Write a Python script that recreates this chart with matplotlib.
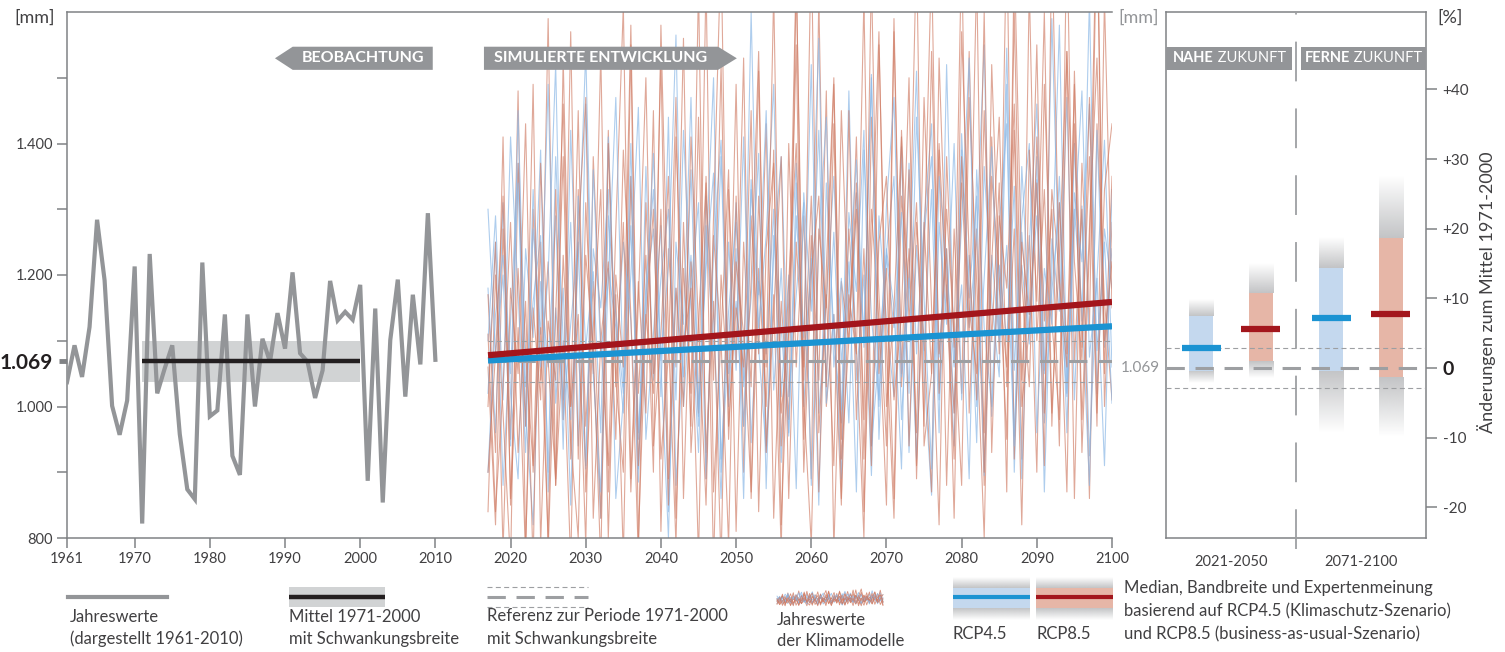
import numpy as np
import matplotlib.pyplot as plt
import matplotlib.colors as mcolors
from matplotlib.patches import Polygon, Rectangle
from matplotlib.transforms import blended_transform_factory

plt.rcParams['font.family'] = ['Lato', 'DejaVu Sans']

# --- beobachtung (jahressumme niederschlag, mm) ---
obs_years = np.arange(1961, 2011)
obs_mm = [1037, 1093, 1045, 1121, 1284, 1192, 1001, 957, 1009, 1213,
          822, 1232, 1020, 1058, 1093, 958, 874, 859, 1219, 985,
          994, 1140, 925, 896, 1140, 1000, 1103, 1068, 1142, 1088,
          1204, 1081, 1068, 1013, 1055, 1191, 1131, 1144, 1132, 1185,
          887, 1149, 854, 1101, 1193, 1015, 1170, 1064, 1294, 1071]

ref_mean = 1069
ref_spread = 31
ref_period = [1971, 2000]

# --- simulation ---
sim_start = 2017
sim_end = 2100
trend_years = [2017, 2100]
trend_rcp45 = [1070, 1122]
trend_rcp85 = [1078, 1159]

rcp45_run1 = [1180, 960, 1310, 1020, 890, 1240, 1105, 1390, 870, 1150, 1010, 1280,
              940, 1460, 1060, 830, 1210, 1120, 990, 1350, 905, 1170, 1270, 1015,
              1440, 880, 1090, 1230, 970, 1320, 1135, 860, 1250, 1055, 1410, 945,
              1190, 1080, 1300, 915, 1160, 1370, 1000, 1225, 850, 1340, 1110, 975,
              1480, 1040, 1200, 895, 1290, 1130, 1015, 1395, 930, 1245, 1085, 1330,
              960, 1520, 1070, 1185, 890, 1360, 1120, 1000, 1275, 1430, 955, 1215,
              1095, 1380, 870, 1255, 1145, 1470, 1010, 1305, 925, 1195, 1405, 1060]
rcp45_run2 = [1020, 1250, 880, 1130, 1370, 990, 820, 1190, 1060, 1290, 935, 1420,
              1080, 910, 1240, 1150, 1330, 860, 1010, 1200, 1455, 950, 1110, 1275,
              840, 1180, 1045, 1360, 985, 1225, 1500, 900, 1095, 1310, 1030, 1165,
              1385, 875, 1260, 1120, 960, 1340, 1070, 1215, 1560, 1005, 1140, 890,
              1295, 1175, 1420, 940, 1080, 1235, 1350, 980, 1190, 1510, 1050, 865,
              1280, 1125, 1400, 1010, 1230, 945, 1365, 1160, 1045, 1490, 900, 1265,
              1110, 1345, 975, 1205, 1580, 1035, 1300, 1150, 880, 1420, 1090, 1240]
rcp45_run3 = [1300, 1080, 1200, 940, 1450, 1030, 1160, 1260, 900, 1380, 1100, 980,
              1220, 1540, 1050, 870, 1290, 1140, 1020, 1400, 960, 1185, 1330, 1065,
              800, 1250, 1125, 1470, 995, 1210, 1355, 920, 1145, 1280, 1040, 1600,
              1090, 930, 1235, 1380, 1015, 1170, 1310, 880, 1255, 1440, 1060, 1195,
              975, 1325, 1105, 1500, 1000, 1240, 1150, 905, 1370, 1080, 1280, 1430,
              1010, 1185, 940, 1390, 1120, 1260, 1550, 985, 1215, 1100, 1335, 890,
              1245, 1460, 1055, 1175, 1310, 960, 1400, 1130, 1620, 1020, 1270, 1180]
rcp45_run4 = [900, 1140, 1230, 1050, 1340, 970, 1270, 1110, 1490, 1005, 1180, 850,
              1320, 1090, 1205, 960, 1410, 1070, 1250, 1130, 885, 1365, 1040, 1195,
              1300, 1010, 1420, 1155, 930, 1275, 1085, 1380, 1000, 1240, 860, 1330,
              1170, 1450, 1025, 1210, 955, 1290, 1105, 1520, 990, 1160, 1350, 1065,
              1220, 870, 1390, 1135, 1010, 1305, 1470, 1045, 1195, 920, 1260, 1380,
              1075, 1240, 990, 1415, 1165, 1320, 895, 1230, 1100, 1545, 1055, 1285,
              1400, 960, 1210, 1125, 1350, 1020, 1270, 1480, 1075, 1195, 910, 1330]
rcp45_run5 = [1100, 1290, 1010, 1410, 1170, 930, 1330, 1060, 1200, 1520, 980, 1125,
              1250, 905, 1360, 1080, 1190, 1470, 1030, 1275, 950, 1145, 1385, 1070,
              1215, 1565, 1000, 1180, 1310, 890, 1240, 1405, 1050, 1160, 970, 1345,
              1120, 1260, 1490, 1015, 1200, 875, 1325, 1145, 1420, 1040, 1265, 995,
              1185, 1375, 1090, 1505, 950, 1230, 1120, 1295, 1020, 1440, 1165, 905,
              1350, 1210, 1060, 1280, 1530, 1000, 1195, 1395, 1105, 1245, 940, 1365,
              1140, 1290, 1050, 1590, 1180, 1015, 1325, 1220, 1460, 1085, 1250, 1005]

rcp85_run1 = [1060, 820, 1270, 950, 1480, 790, 1150, 1010, 1590, 880, 1100, 760,
              1330, 970, 1190, 830, 1420, 1040, 900, 1550, 800, 1130, 1300, 920,
              1080, 1470, 860, 1220, 990, 1650, 870, 1110, 1360, 810, 1250, 1030,
              1510, 940, 1170, 780, 1400, 1060, 1290, 890, 1620, 1000, 1140, 850,
              1450, 980, 1240, 910, 1550, 1090, 830, 1320, 1180, 1700, 940, 1050,
              1390, 880, 1270, 1020, 1540, 1110, 800, 1350, 1200, 950, 1600, 1040,
              1260, 900, 1490, 1130, 980, 1730, 1070, 1300, 860, 1430, 1160, 1010]
rcp85_run2 = [840, 1200, 990, 760, 1370, 1080, 910, 1250, 780, 1140, 1460, 950,
              800, 1310, 1050, 1540, 870, 1170, 770, 1350, 1020, 1230, 900, 1580,
              1110, 790, 1280, 970, 1440, 930, 1160, 760, 1330, 1070, 1530, 860,
              1210, 1000, 1390, 820, 1120, 1670, 950, 1260, 1040, 1480, 780, 1190,
              1100, 1410, 920, 1300, 1130, 850, 1570, 1030, 1240, 960, 1470, 1150,
              820, 1380, 1090, 1700, 990, 1270, 880, 1520, 1180, 1060, 1420, 920,
              1640, 1100, 1330, 990, 1230, 1540, 860, 1370, 1120, 1750, 1000, 1280]
rcp85_run3 = [1170, 930, 1410, 850, 1120, 770, 1300, 1040, 1220, 880, 1530, 1000,
              1140, 790, 1380, 1100, 910, 1270, 1610, 890, 1190, 990, 1450, 810,
              1240, 1060, 1560, 930, 1130, 1340, 760, 1200, 1010, 1490, 900, 1290,
              1080, 1430, 830, 1160, 980, 1650, 1040, 1320, 870, 1210, 1500, 950,
              1270, 1090, 800, 1440, 1170, 940, 1590, 1050, 1360, 910, 1230, 1680,
              1020, 1300, 1110, 880, 1470, 1190, 960, 1410, 1080, 1730, 920, 1250,
              1140, 1550, 990, 1330, 1200, 870, 1510, 1090, 1380, 970, 1620, 1150]
rcp85_run4 = [1000, 1250, 780, 1180, 1050, 1430, 900, 1120, 800, 1330, 980, 1570,
              920, 1230, 1090, 760, 1400, 1030, 1280, 870, 1160, 1500, 940, 1110,
              1350, 830, 1210, 1020, 1640, 890, 1260, 1100, 790, 1320, 970, 1190,
              1540, 930, 1140, 1380, 860, 1250, 1060, 1710, 960, 1170, 910, 1450,
              1120, 1300, 840, 1230, 1570, 1000, 1150, 1410, 940, 1280, 1100, 870,
              1530, 1180, 990, 1340, 1110, 1660, 900, 1220, 1440, 1030, 1270, 820,
              1390, 1160, 1600, 970, 1310, 1080, 1490, 930, 1240, 1770, 1050, 1350]
rcp85_run5 = [900, 1080, 1320, 860, 1210, 970, 1490, 790, 1130, 1040, 1380, 920,
              1260, 1470, 830, 1100, 1220, 950, 1390, 1140, 770, 1310, 1050, 1530,
              890, 1180, 1000, 1410, 1120, 850, 1290, 1700, 970, 1150, 1060, 1450,
              840, 1240, 1370, 990, 1110, 1550, 900, 1200, 1320, 1030, 1430, 860,
              1170, 1080, 1620, 940, 1250, 1350, 1010, 1140, 1500, 890, 1280, 1050,
              1400, 1160, 920, 1570, 1230, 1010, 1450, 1100, 1340, 870, 1690, 1190,
              1030, 1410, 1130, 1300, 940, 1540, 1220, 1070, 1470, 990, 1330, 1430]
rcp85_run6 = [1110, 840, 1030, 1280, 930, 1160, 760, 1370, 1070, 890, 1230, 1000,
              1450, 870, 1120, 1330, 800, 1200, 1060, 1580, 910, 1140, 1020, 1300,
              850, 1410, 1090, 1180, 770, 1350, 1040, 1520, 950, 1220, 1110, 870,
              1320, 1060, 1630, 940, 1190, 1400, 1010, 790, 1270, 1150, 1490, 920,
              1100, 1340, 980, 1660, 1050, 1210, 860, 1420, 1130, 1310, 970, 1540,
              1080, 1240, 830, 1380, 1150, 1050, 1600, 930, 1290, 1180, 1460, 1000,
              1120, 1340, 910, 1710, 1190, 1060, 1430, 980, 1270, 1530, 1100, 1220]

rcp45_runs = [rcp45_run1, rcp45_run2, rcp45_run3, rcp45_run4, rcp45_run5]
rcp85_runs = [rcp85_run1, rcp85_run2, rcp85_run3, rcp85_run4, rcp85_run5, rcp85_run6]

# --- zukunft: aenderung in % gegen 1971-2000 ---
periods = ['2021-2050', '2071-2100']
rcp45_median = [2.9, 7.2]
rcp45_band_lo = [-0.4, -0.4]
rcp45_band_hi = [7.5, 14.4]
rcp45_expert_lo = [-2.2, -9.3]
rcp45_expert_hi = [9.9, 18.8]
rcp85_median = [5.6, 7.8]
rcp85_band_lo = [1.0, -1.3]
rcp85_band_hi = [10.8, 18.7]
rcp85_expert_lo = [-1.4, -9.9]
rcp85_expert_hi = [15.1, 27.6]
pct_ticks = [-20, -10, 0, 10, 20, 30, 40]

# colours
c_spine = '#808285'
c_text = '#414042'
c_obs = '#939598'
c_band = '#d1d3d4'
c_mean = '#231f20'
c_blue = '#1b93d2'
c_red = '#a3161c'
c_blue_thin = '#8cb8e6'
c_red_thin = '#cf7a62'
c_blue_band = '#c4d8ee'
c_red_band = '#e6b6a7'
c_fade = '#c3c4c6'
c_ref = '#9d9fa2'
c_banner = '#939598'


def fade(axis, x0, x1, y_from, y_to, color, zorder=2):
    rgba = np.zeros((64, 1, 4))
    rgba[..., :3] = mcolors.to_rgb(color)
    rgba[:, 0, 3] = np.linspace(1, 0, 64)
    axis.imshow(rgba, extent=[x0, x1, y_from, y_to], origin='lower',
                aspect='auto', zorder=zorder, interpolation='bilinear')


def mm_label(v):
    return '{:,}'.format(v).replace(',', '.')


fig = plt.figure(figsize=(15.05, 6.52), dpi=100)
ax = fig.add_axes([67 / 1505, 114 / 652, 1045 / 1505, 526 / 652])
axr = fig.add_axes([1166 / 1505, 114 / 652, 260 / 1505, 526 / 652])
lg = fig.add_axes([0, 0, 1, 1])

# ---------------- main panel ----------------
n = max(len(rcp45_runs), len(rcp85_runs))
for i in range(n):
    if i < len(rcp45_runs):
        run = rcp45_runs[i]
        ax.plot(sim_start + np.arange(len(run)), run, color=c_blue_thin, lw=0.8, alpha=0.7, zorder=2)
    if i < len(rcp85_runs):
        run = rcp85_runs[i]
        ax.plot(sim_start + np.arange(len(run)), run, color=c_red_thin, lw=0.8, alpha=0.65, zorder=2)

ax.plot([sim_start, sim_end], [ref_mean, ref_mean], color=c_ref, lw=2.2, dashes=(6, 3.5), zorder=3)
for s in (-1, 1):
    ax.plot([sim_start, sim_end], [ref_mean + s * ref_spread] * 2, color=c_ref, lw=0.8,
            dashes=(4.5, 3), zorder=3)

ax.fill_between(ref_period, ref_mean - ref_spread, ref_mean + ref_spread, color=c_band, lw=0, zorder=1)
ax.plot(obs_years, obs_mm, color=c_obs, lw=3, zorder=3, solid_joinstyle='miter')
ax.plot(ref_period, [ref_mean, ref_mean], color=c_mean, lw=3.2, zorder=4, solid_capstyle='butt')

ax.plot(trend_years, trend_rcp45, color=c_blue, lw=4.5, zorder=5, solid_capstyle='butt')
ax.plot(trend_years, trend_rcp85, color=c_red, lw=4.5, zorder=5, solid_capstyle='butt')

ax.set_xlim(1961, 2100)
ax.set_ylim(800, 1600)
for side in ('top', 'left', 'bottom'):
    ax.spines[side].set_color(c_spine)
    ax.spines[side].set_linewidth(1.1)
ax.spines['right'].set_visible(False)

xt = [1961, 1970, 1980, 1990, 2000, 2010, 2020, 2030, 2040, 2050, 2060, 2070, 2080, 2090, 2100]
ax.set_xticks(xt)
ax.set_xticklabels([str(v) for v in xt])
yt = [800, 1000, ref_mean, 1200, 1400]
ax.set_yticks(yt)
ylabels = ax.set_yticklabels([mm_label(v) for v in yt])
ax.set_yticks([900, 1100, 1300, 1500], minor=True)
ax.tick_params(axis='both', which='both', direction='out', length=7, width=1.1,
               color=c_spine, labelcolor=c_text, labelsize=10.5, pad=3)
ylabels[2].set_fontweight('bold')
ylabels[2].set_fontsize(15)
ylabels[2].set_color(c_mean)
tk = ax.yaxis.get_major_ticks()[2]
tk.tick1line.set_markeredgewidth(3.5)
tk.tick1line.set_color(c_mean)
tk.tick1line.set_markersize(6)


def banner(axis, x0, x1, y0, y1, tip, text, pointing):
    ym = (y0 + y1) / 2
    if pointing == 'left':
        pts = [(tip, ym), (x0, y1), (x1, y1), (x1, y0), (x0, y0)]
    else:
        pts = [(x0, y0), (x0, y1), (x1, y1), (tip, ym), (x1, y0)]
    axis.add_patch(Polygon(pts, closed=True, facecolor=c_banner, edgecolor='none',
                           transform=axis.transAxes, clip_on=False, zorder=6))
    axis.text((x0 + x1) / 2, ym, text, transform=axis.transAxes, ha='center', va='center',
              color='white', fontsize=11.5, fontweight='bold', zorder=7)


banner(ax, 0.216, 0.350, 0.890, 0.934, 0.199, 'BEOBACHTUNG', 'left')
banner(ax, 0.399, 0.623, 0.890, 0.934, 0.641, 'SIMULIERTE ENTWICKLUNG', 'right')

# ---------------- right panel ----------------
ylo, yhi = -24.4, 51.1
spread_pct = ref_spread / ref_mean * 100
pos = [1, 3]
off = 0.46
bw = 0.37
mw = 0.6
for k in range(len(periods)):
    for sign, med, blo, bhi, elo, ehi, cb, cm in (
            (-1, rcp45_median, rcp45_band_lo, rcp45_band_hi, rcp45_expert_lo, rcp45_expert_hi, c_blue_band, c_blue),
            (1, rcp85_median, rcp85_band_lo, rcp85_band_hi, rcp85_expert_lo, rcp85_expert_hi, c_red_band, c_red)):
        x = pos[k] + sign * off
        fade(axr, x - bw / 2, x + bw / 2, bhi[k], ehi[k], c_fade)
        fade(axr, x - bw / 2, x + bw / 2, blo[k], elo[k], c_fade)
        axr.bar(x, bhi[k] - blo[k], bottom=blo[k], width=bw, color=cb, lw=0, zorder=2)
        axr.plot([x - mw / 2, x + mw / 2], [med[k], med[k]], color=cm, lw=4.5,
                 solid_capstyle='butt', zorder=5)

axr.plot([0, 4], [0, 0], color=c_ref, lw=2.2, dashes=(6, 3.5), zorder=3)
for s in (-1, 1):
    axr.plot([0, 4], [s * spread_pct] * 2, color=c_ref, lw=0.8, dashes=(4.5, 3), zorder=3)
axr.plot([2, 2], [ylo - 1.6, yhi], color=c_ref, lw=1.3, dashes=(22, 15), zorder=3, clip_on=False)

axr.set_xlim(0, 4)
axr.set_ylim(ylo, yhi)
for side in axr.spines:
    axr.spines[side].set_color(c_spine)
    axr.spines[side].set_linewidth(1.1)
axr.set_xticks(pos)
axr.set_xticklabels(periods)
axr.tick_params(axis='x', length=0, pad=12, labelsize=10.5, labelcolor=c_text)
axr.yaxis.tick_right()
axr.set_yticks(pct_ticks)
plabels = axr.set_yticklabels(['+{}'.format(v) if v > 0 else str(v) for v in pct_ticks])
axr.tick_params(axis='y', direction='out', length=8, width=1.1, color=c_spine,
                labelcolor=c_text, labelsize=11, pad=4)
for t, v in zip(plabels, pct_ticks):
    if v == 0:
        t.set_fontweight('bold')
        t.set_fontsize(14)
        t.set_color(c_mean)

bt = blended_transform_factory(axr.transAxes, axr.transData)
axr.text(-0.023, 0, mm_label(ref_mean), transform=bt, ha='right', va='center',
         color=c_obs, fontsize=11)

for x0, w, tx, bold in ((0, 0.485, 0.027, 'NAHE'), (0.519, 0.481, 0.535, 'FERNE')):
    axr.add_patch(Rectangle((x0, 0.890), w, 0.044, transform=axr.transAxes,
                            facecolor=c_banner, edgecolor='none', zorder=6, clip_on=False))
    t1 = axr.text(tx, 0.912, bold, transform=axr.transAxes, ha='left', va='center',
                  color='white', fontsize=10.5, fontweight='bold', zorder=7)
    axr.annotate(' ZUKUNFT', xy=(1, 0.5), xycoords=t1, ha='left', va='center',
                 color='white', fontsize=10.5, zorder=7)

# ---------------- overlay texts + legend (pixel coords) ----------------
lg.set_xlim(0, 1505)
lg.set_ylim(652, 0)
lg.axis('off')

lg.text(14, 18, '[mm]', ha='left', va='center', fontsize=13, color=c_text)
lg.text(1118, 18, '[mm]', ha='left', va='center', fontsize=13, color=c_obs)
lg.text(1437, 18, '[%]', ha='left', va='center', fontsize=13, color=c_text)
lg.text(1487, 292, 'Änderungen zum Mittel 1971-2000', rotation=90, ha='center', va='center',
        fontsize=13, color=c_text)

ls = 12
# jahreswerte
lg.plot([68, 167], [597, 597], color=c_obs, lw=3)
lg.text(70, 617, 'Jahreswerte', va='center', fontsize=ls, color=c_text)
lg.text(70, 639, '(dargestellt 1961-2010)', va='center', fontsize=ls, color=c_text)
# mittel
lg.add_patch(Rectangle((289, 587), 96, 20, facecolor=c_band, edgecolor='none'))
lg.plot([289, 385], [597, 597], color=c_mean, lw=3.2, solid_capstyle='butt')
lg.text(289, 617, 'Mittel 1971-2000', va='center', fontsize=ls, color=c_text)
lg.text(289, 639, 'mit Schwankungsbreite', va='center', fontsize=ls, color=c_text)
# referenz
lg.plot([487, 588], [597, 597], color=c_ref, lw=2.2, dashes=(6, 3.5))
lg.plot([487, 588], [587, 587], color=c_ref, lw=0.8, dashes=(4.5, 3))
lg.plot([487, 588], [607, 607], color=c_ref, lw=0.8, dashes=(4.5, 3))
lg.text(487, 616, 'Referenz zur Periode 1971-2000', va='center', fontsize=ls, color=c_text)
lg.text(487, 639, 'mit Schwankungsbreite', va='center', fontsize=ls, color=c_text)
# klimamodelle
for i in range(n):
    for runs, col in ((rcp45_runs, c_blue_thin), (rcp85_runs, c_red_thin)):
        if i < len(runs):
            vals = np.clip(np.array(runs[i][:40], dtype=float), 750, 1750)
            xs = np.linspace(777, 883, len(vals))
            ys = 606 - (vals - 750) / 1000 * 18
            lg.plot(xs, ys, color=col, lw=0.6, alpha=0.8)
lg.text(777, 620, 'Jahreswerte', va='center', fontsize=ls, color=c_text)
lg.text(777, 641, 'der Klimamodelle', va='center', fontsize=ls, color=c_text)
# rcp boxes
for x0, cb, cm, name in ((953, c_blue_band, c_blue, 'RCP4.5'), (1036, c_red_band, c_red, 'RCP8.5')):
    x1 = x0 + 77
    fade(lg, x0, x1, 588, 577, c_fade)
    fade(lg, x0, x1, 608, 620, c_fade)
    lg.add_patch(Rectangle((x0, 588), 77, 20, facecolor=cb, edgecolor='none'))
    lg.plot([x0, x1], [597, 597], color=cm, lw=3, solid_capstyle='butt')
    lg.text(x0, 634, name, va='center', fontsize=ls, color=c_text)
lg.text(1124, 588, 'Median, Bandbreite und Expertenmeinung', va='center', fontsize=ls, color=c_text)
lg.text(1124, 611, 'basierend auf RCP4.5 (Klimaschutz-Szenario)', va='center', fontsize=ls, color=c_text)
lg.text(1124, 634, 'und RCP8.5 (business-as-usual-Szenario)', va='center', fontsize=ls, color=c_text)
lg.set_xlim(0, 1505)
lg.set_ylim(652, 0)

fig.savefig('out.png', dpi=100)
